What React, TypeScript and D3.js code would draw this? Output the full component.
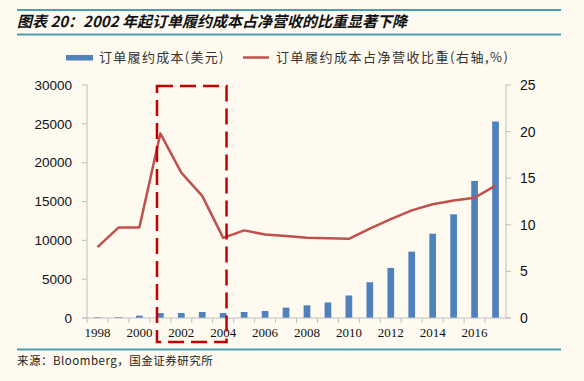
import React from 'react';
import * as d3 from 'd3';

const years = ['1998', '1999', '2000', '2001', '2002', '2003', '2004', '2005', '2006', '2007', '2008', '2009', '2010', '2011', '2012', '2013', '2014', '2015', '2016', '2017'];
const fulfillmentCost = [100, 130, 300, 640, 640, 770, 640, 770, 900, 1330, 1630, 2000, 2900, 4600, 6450, 8550, 10850, 13350, 17650, 25300];
const costShare = [7.6, 9.7, 9.7, 19.8, 15.6, 13.1, 8.6, 9.4, 8.95, 8.8, 8.6, 8.55, 8.5, 9.6, 10.6, 11.55, 12.2, 12.6, 12.9, 14.2];
const leftTicks = [0, 5000, 10000, 15000, 20000, 25000, 30000];
const rightTicks = [0, 5, 10, 15, 20, 25];
const xTickLabels = ['1998', '2000', '2002', '2004', '2006', '2008', '2010', '2012', '2014', '2016'];
const highlightYears = ['2001', '2004'];

const title = '图表 20：2002 年起订单履约成本占净营收的比重显著下降';
const legendBar = '订单履约成本(美元)';
const legendLine = '订单履约成本占净营收比重(右轴,%)';
const source = '来源：Bloomberg，国金证券研究所';

const W = 584, H = 381;
const plot = { left: 87, right: 506, top: 85, bottom: 318 };
const BG = '#fefaf0';
const BAR = '#4f81bd';
const LINE = '#c0504d';
const TEAL = '#4f9bb4';
const AXIS = '#bfbfbf';
const CJK = '"Noto Sans CJK SC", sans-serif';

export default function App() {
  const x = d3.scaleBand<string>().domain(years).range([plot.left, plot.right]).padding(0);
  const step = x.step();
  const barW = step * 0.32;
  const cx = (y: string) => (x(y) as number) + step / 2;
  const yL = d3.scaleLinear().domain([0, 30000]).range([plot.bottom, plot.top]);
  const yR = d3.scaleLinear().domain([0, 25]).range([plot.bottom, plot.top]);
  const line = d3.line<number>().x((_, i) => cx(years[i])).y((d) => yR(d));

  const boxL = cx(highlightYears[0]) - barW / 2;
  const boxR = cx(highlightYears[1]) + barW / 2;

  return (
    <svg width={W} height={H} style={{ position: 'absolute', left: 0, top: 0 }}>
      <rect x={0} y={0} width={W} height={H} fill={BG} />
      {/* title */}
      <line x1={17} x2={561} y1={10} y2={10} stroke={TEAL} strokeWidth={2} />
      <text x={17} y={27} fontFamily={CJK} fontWeight={700} fontStyle="italic" fontSize={15} fill="#111">{title}</text>
      <line x1={17} x2={561} y1={34.5} y2={34.5} stroke={TEAL} strokeWidth={2} />

      {/* legend */}
      <rect x={66} y={55} width={27} height={5.5} fill={BAR} />
      <text x={99} y={62} fontFamily={CJK} fontSize={13} letterSpacing={1.3} fill="#333">{legendBar}</text>
      <line x1={243} x2={269} y1={57.5} y2={57.5} stroke={LINE} strokeWidth={2.5} />
      <text x={276} y={62} fontFamily={CJK} fontSize={13} letterSpacing={1.5} fill="#333">{legendLine}</text>

      {/* bars */}
      {fulfillmentCost.map((v, i) => (
        <rect key={years[i]} x={cx(years[i]) - barW / 2} y={yL(v)} width={barW} height={plot.bottom - yL(v)} fill={BAR} />
      ))}

      {/* axes */}
      <line x1={plot.left} x2={plot.left} y1={plot.top} y2={plot.bottom} stroke={AXIS} strokeWidth={1} />
      <line x1={plot.right} x2={plot.right} y1={plot.top} y2={plot.bottom} stroke={AXIS} strokeWidth={1} />
      <line x1={plot.left - 5} x2={plot.right + 5} y1={plot.bottom} y2={plot.bottom} stroke={AXIS} strokeWidth={1} />
      {leftTicks.map((t) => (
        <g key={'l' + t}>
          <line x1={plot.left - 5} x2={plot.left} y1={yL(t)} y2={yL(t)} stroke={AXIS} />
          <text x={72} y={yL(t)} dy="0.35em" textAnchor="end" fontFamily='"Liberation Sans", Arial, sans-serif' fontSize={13.5} fill="#111">{t}</text>
        </g>
      ))}
      {rightTicks.map((t) => (
        <g key={'r' + t}>
          <line x1={plot.right} x2={plot.right + 5} y1={yR(t)} y2={yR(t)} stroke={AXIS} />
          <text x={520} y={yR(t)} dy="0.35em" textAnchor="start" fontFamily='"Liberation Sans", Arial, sans-serif' fontSize={14} fill="#111">{t}</text>
        </g>
      ))}
      {years.map((yr) => (
        <line key={'xt' + yr} x1={x(yr) as number} x2={x(yr) as number} y1={plot.bottom} y2={plot.bottom + 5} stroke={AXIS} />
      ))}
      {xTickLabels.map((yr) => (
        <text key={'xl' + yr} x={cx(yr)} y={337} textAnchor="middle" fontFamily='"Liberation Serif", "Times New Roman", serif' fontSize={13} fill="#111">{yr}</text>
      ))}

      {/* line */}
      <path d={line(costShare) || ''} fill="none" stroke={LINE} strokeWidth={2.5} strokeLinejoin="round" />

      {/* highlight box */}
      <rect x={boxL} y={86} width={boxR - boxL} height={342 - 86} fill="none" stroke="#c00000" strokeWidth={2.5} strokeDasharray="16 7" />

      {/* source */}
      <line x1={17} x2={561} y1={349.5} y2={349.5} stroke={TEAL} strokeWidth={2} />
      <text x={17} y={365} fontFamily={CJK} fontSize={11.5} letterSpacing={0.5} fill="#222">{source}</text>
    </svg>
  );
}
